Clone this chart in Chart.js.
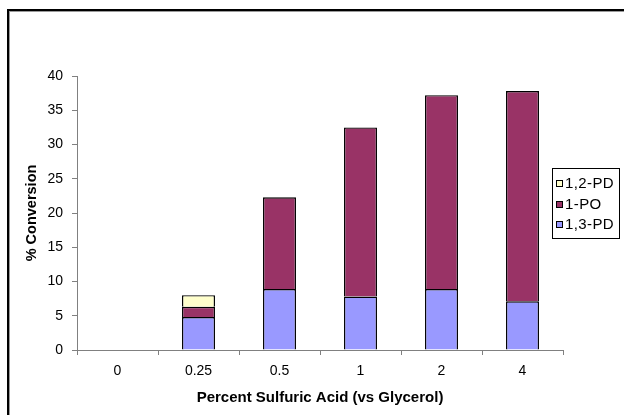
<!DOCTYPE html>
<html>
<head>
<meta charset="utf-8">
<script src="https://cdn.jsdelivr.net/npm/chart.js@4/dist/chart.umd.min.js"></script>
<style>
  html, body { margin: 0; padding: 0; background: #fff; }
  #wrap { position: relative; width: 624px; height: 415px; }
</style>
</head>
<body>
<div id="wrap"><canvas id="c" width="624" height="415"></canvas></div>
<script>
// Acid loading (percent vs glycerol) and product conversions
const categories = ['0', '0.25', '0.5', '1', '2', '4'];
const pd13 = [null, 4.8, 8.9, 7.8, 8.9, 7.1];
const po1 = [null, 1.5, 13.4, 24.7, 28.3, 30.7];
const pd12 = [null, 1.7, null, null, null, null];
const yTicks = [0, 5, 10, 15, 20, 25, 30, 35, 40];

const FONT = 'Liberation Sans, Arial, sans-serif';
const AXIS = '#808080';

// Outer frame and boxed legend on the right
const decor = {
  id: 'decor',
  beforeDraw(chart) {
    const ctx = chart.ctx;
    ctx.save();
    ctx.fillStyle = '#fff';
    ctx.fillRect(0, 0, chart.width, chart.height);
    ctx.fillStyle = '#000';
    ctx.fillRect(7, 9, chart.width, 2);
    ctx.fillRect(7, 9, 2, chart.height);
    ctx.fillStyle = '#9a9a9a';
    ctx.fillRect(9, 11, chart.width, 1);
    ctx.fillRect(9, 11, 1, chart.height);
    ctx.restore();
  },
  afterDraw(chart) {
    const ctx = chart.ctx;
    const bx = 552.5, by = 168.5, bw = 67, bh = 70;
    ctx.save();
    ctx.fillStyle = '#fff';
    ctx.fillRect(bx, by, bw, bh);
    ctx.strokeStyle = '#000';
    ctx.lineWidth = 1;
    ctx.strokeRect(bx, by, bw, bh);
    const items = chart.data.datasets.slice().reverse();
    ctx.font = '15px ' + FONT;
    ctx.letterSpacing = '0.4px';
    ctx.textBaseline = 'middle';
    items.forEach((ds, i) => {
      const cy = Math.round(183 + i * 20.5);
      ctx.fillStyle = ds.backgroundColor;
      ctx.fillRect(556, cy - 3, 7, 7);
      ctx.strokeStyle = '#000';
      ctx.strokeRect(556.5, cy - 2.5, 6, 6);
      ctx.fillStyle = '#000';
      ctx.fillText(ds.label, 565, cy + 1);
    });
    ctx.restore();
  }
};

new Chart(document.getElementById('c'), {
  type: 'bar',
  data: {
    labels: categories,
    datasets: [
      { label: '1,3-PD', data: pd13, backgroundColor: '#9999FF', borderColor: '#000', borderWidth: 1.4 },
      { label: '1-PO', data: po1, backgroundColor: '#993366', borderColor: '#000', borderWidth: 1.4 },
      { label: '1,2-PD', data: pd12, backgroundColor: '#FFFFCC', borderColor: '#000', borderWidth: 1.4 }
    ]
  },
  options: {
    responsive: false,
    animation: false,
    devicePixelRatio: 1,
    layout: { padding: { left: 0, top: 76, right: 61, bottom: 0 } },
    datasets: { bar: { categoryPercentage: 1, barPercentage: 0.407 } },
    plugins: { legend: { display: false }, tooltip: { enabled: false } },
    scales: {
      x: {
        stacked: true,
        grid: { drawOnChartArea: false, color: AXIS, tickLength: 5, offset: true },
        border: { color: AXIS, width: 1 },
        ticks: { color: '#000', font: { family: FONT, size: 14 }, padding: 8, maxRotation: 0 },
        title: { display: true, text: 'Percent Sulfuric Acid (vs Glycerol)', color: '#000',
                 font: { family: FONT, size: 15, weight: 'bold' }, padding: { top: 0, bottom: 8 } },
        afterFit(s) { s.height = 65; }
      },
      y: {
        stacked: true,
        min: 0, max: 40,
        afterBuildTicks(s) { s.ticks = yTicks.map(v => ({ value: v })); },
        grid: { drawOnChartArea: false, color: AXIS, tickLength: 5 },
        border: { color: AXIS, width: 1 },
        ticks: { color: '#000', font: { family: FONT, size: 14 }, padding: 9 },
        title: { display: true, text: '% Conversion', color: '#000',
                 font: { family: FONT, size: 14.5, weight: 'bold' }, padding: { top: 23, bottom: 0 } },
        afterFit(s) { s.width = 77; }
      }
    }
  },
  plugins: [decor]
});
</script>
</body>
</html>
